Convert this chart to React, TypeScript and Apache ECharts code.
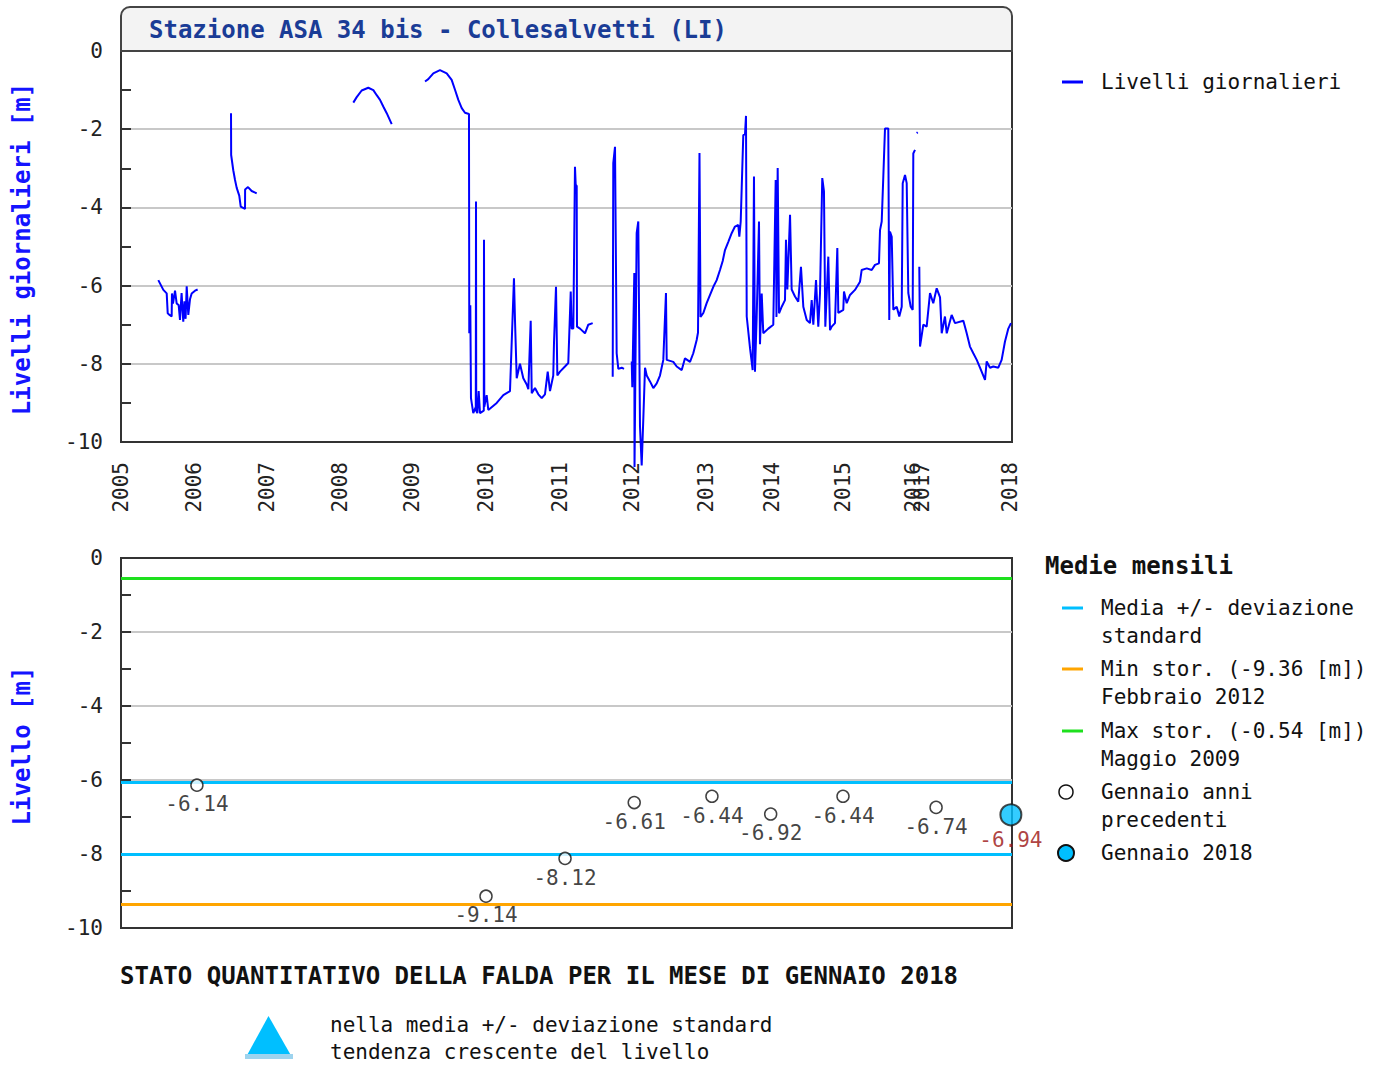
import React, { useEffect, useRef } from "react";
import * as echarts from "echarts";

// ---------- axis layout (non-linear year axis of the original) ----------
const YEAR_TICKS = [2005, 2006, 2007, 2008, 2009, 2010, 2011, 2012, 2013, 2014, 2015, 2016, 2017, 2018];
const YEAR_TICK_POS = [0, 73, 146, 219, 291, 365, 439, 511, 585, 651, 722, 792, 801, 889];
const AXIS_MAX = 891;
const Y_TICKS_MIN = -10;
const Y_TICKS_MAX = 0;

// ---------- daily levels [decimal year, level m] ----------
const seg2005 = [
  [2005.511, -5.86], [2005.58, -6.11], [2005.626, -6.2], [2005.64, -6.71], [2005.665, -6.75], [2005.694, -6.79],
  [2005.698, -6.2], [2005.712, -6.46], [2005.74, -6.13], [2005.763, -6.46], [2005.79, -6.5], [2005.808, -6.88],
  [2005.83, -6.19], [2005.853, -6.92], [2005.87, -6.4], [2005.885, -6.85], [2005.9, -6.02], [2005.922, -6.75],
  [2005.945, -6.35], [2005.968, -6.2], [2006.014, -6.13], [2006.05, -6.1],
];
const seg2006 = [
  [2006.507, -1.59], [2006.509, -2.66], [2006.538, -3.05], [2006.562, -3.3], [2006.585, -3.5], [2006.62, -3.7],
  [2006.64, -3.98], [2006.699, -4.04], [2006.7, -3.54], [2006.74, -3.48], [2006.79, -3.58], [2006.859, -3.64],
];
const seg2008 = [
  [2008.185, -1.32], [2008.232, -1.18], [2008.301, -1.01], [2008.393, -0.94], [2008.463, -1.0], [2008.51, -1.13],
  [2008.556, -1.25], [2008.601, -1.42], [2008.649, -1.59], [2008.718, -1.87],
];
const seg2009 = [
  [2009.176, -0.78], [2009.22, -0.72], [2009.288, -0.57], [2009.378, -0.49], [2009.469, -0.57], [2009.536, -0.74],
  [2009.581, -0.99], [2009.626, -1.25], [2009.672, -1.46], [2009.716, -1.58], [2009.77, -1.61], [2009.774, -7.22],
  [2009.788, -6.5], [2009.797, -8.88], [2009.828, -9.26], [2009.862, -9.1], [2009.865, -3.85], [2009.868, -9.2],
  [2009.883, -9.26], [2009.901, -8.7], [2009.919, -9.26], [2009.97, -9.2], [2009.973, -4.83], [2009.977, -9.1],
  [2010.009, -8.8], [2010.031, -9.18], [2010.145, -9.0], [2010.234, -8.8], [2010.324, -8.7], [2010.347, -7.47],
  [2010.378, -5.81], [2010.392, -6.9], [2010.415, -8.37], [2010.459, -8.0], [2010.504, -8.37], [2010.55, -8.53],
  [2010.572, -8.65], [2010.604, -6.9], [2010.618, -8.75], [2010.662, -8.62], [2010.707, -8.78], [2010.753, -8.88],
  [2010.797, -8.78], [2010.834, -8.2], [2010.865, -8.7], [2010.909, -8.3], [2010.919, -7.45], [2010.946, -6.03],
  [2010.964, -8.3], [2011.0, -8.2], [2011.069, -8.07], [2011.115, -7.98], [2011.149, -6.15], [2011.162, -7.1],
  [2011.185, -7.1], [2011.208, -2.96], [2011.218, -3.42], [2011.232, -3.45], [2011.236, -7.05], [2011.278, -7.1],
  [2011.347, -7.22], [2011.393, -7.0], [2011.454, -6.96],
];
const seg2011 = [
  [2011.732, -8.33], [2011.74, -2.87], [2011.764, -2.45], [2011.787, -7.73], [2011.81, -8.13], [2011.857, -8.1],
  [2011.889, -8.13],
];
const seg2012 = [
  [2011.996, -7.94], [2012.004, -8.6], [2012.031, -5.68], [2012.034, -10.64], [2012.063, -4.66], [2012.085, -4.36],
  [2012.108, -9.6], [2012.131, -10.6], [2012.153, -9.4], [2012.176, -8.1], [2012.199, -8.3], [2012.243, -8.45],
  [2012.288, -8.62], [2012.334, -8.5], [2012.378, -8.3], [2012.423, -7.9], [2012.459, -6.19], [2012.469, -7.9],
  [2012.558, -7.95], [2012.604, -8.07], [2012.672, -8.16], [2012.716, -7.86], [2012.784, -7.95], [2012.828, -7.73],
  [2012.874, -7.39], [2012.892, -7.2], [2012.912, -2.61], [2012.926, -6.8], [2012.964, -6.7], [2013.01, -6.45],
  [2013.061, -6.24], [2013.111, -6.03], [2013.162, -5.86], [2013.212, -5.6], [2013.253, -5.37], [2013.288, -5.09],
  [2013.338, -4.88], [2013.389, -4.66], [2013.439, -4.49], [2013.489, -4.45], [2013.505, -4.75], [2013.526, -4.36],
  [2013.541, -3.5], [2013.565, -2.15], [2013.591, -2.13], [2013.606, -1.66], [2013.617, -6.79], [2013.667, -7.6],
  [2013.707, -8.16], [2013.727, -3.21], [2013.742, -8.2], [2013.768, -6.79], [2013.803, -4.36], [2013.818, -7.5],
  [2013.844, -6.2], [2013.868, -7.22], [2013.944, -7.1], [2014.018, -7.0], [2014.052, -3.3], [2014.063, -6.8],
  [2014.08, -2.99], [2014.099, -6.71], [2014.137, -6.54], [2014.183, -6.37], [2014.197, -4.83], [2014.216, -6.1],
  [2014.254, -4.19], [2014.277, -6.1], [2014.324, -6.28], [2014.37, -6.41], [2014.408, -5.52], [2014.441, -6.54],
  [2014.489, -6.88], [2014.535, -6.96], [2014.559, -6.37], [2014.582, -7.0], [2014.62, -5.86], [2014.652, -7.05],
  [2014.676, -6.2], [2014.708, -3.25], [2014.732, -3.59], [2014.751, -7.05], [2014.793, -5.26], [2014.817, -7.14],
  [2014.841, -7.05], [2014.887, -6.96], [2014.92, -5.04], [2014.934, -6.7], [2015.004, -6.62], [2015.014, -6.15],
  [2015.053, -6.45], [2015.1, -6.24], [2015.171, -6.11], [2015.243, -5.9], [2015.267, -5.6], [2015.339, -5.56],
  [2015.41, -5.6], [2015.457, -5.47], [2015.514, -5.43], [2015.529, -4.58], [2015.553, -4.36], [2015.576, -3.21],
  [2015.6, -1.98], [2015.647, -1.98], [2015.661, -6.88], [2015.671, -4.62], [2015.696, -4.75], [2015.719, -6.62],
  [2015.767, -6.54], [2015.804, -6.79], [2015.839, -6.54], [2015.853, -3.38], [2015.886, -3.17], [2015.91, -3.38],
  [2015.933, -6.19], [2015.967, -6.54], [2015.996, -6.62], [2016.033, -2.62], [2016.222, -2.53],
];
const seg2016 = [[2016.41, -2.1], [2016.52, -2.08]];
const seg2017 = [
  [2016.7, -5.52], [2016.78, -7.56], [2017.015, -7.0], [2017.053, -7.05], [2017.091, -6.19], [2017.128, -6.45],
  [2017.167, -6.07], [2017.205, -6.3], [2017.224, -7.22], [2017.261, -6.79], [2017.281, -7.22], [2017.337, -6.75],
  [2017.375, -6.96], [2017.47, -6.9], [2017.508, -7.22], [2017.545, -7.56], [2017.583, -7.73], [2017.622, -7.9],
  [2017.659, -8.1], [2017.716, -8.41], [2017.735, -7.94], [2017.773, -8.1], [2017.81, -8.07], [2017.867, -8.1],
  [2017.905, -7.9], [2017.943, -7.43], [2017.981, -7.1], [2018.011, -6.96],
];
const DAILY_SEGMENTS = [seg2005, seg2006, seg2008, seg2009, seg2011, seg2012, seg2016, seg2017];

// ---------- January monthly means ----------
const JAN_DATES = [2006.04, 2010.0, 2011.07, 2012.03, 2013.09, 2013.98, 2015.0, 2017.16];
const JAN_VALUES = [-6.14, -9.14, -8.12, -6.61, -6.44, -6.92, -6.44, -6.74];
const JAN_CURRENT_DATE = 2018.01;
const JAN_CURRENT_VALUE = -6.94;
const MEAN_PLUS_SD = -6.06;
const MEAN_MINUS_SD = -8.0;
const HIST_MIN = -9.36;
const HIST_MAX = -0.54;

const TITLE = "Stazione ASA 34 bis - Collesalvetti (LI)";

const MONO = '"DejaVu Sans Mono", monospace';
const BLUE_LINE = "#0000ff";
const CYAN = "#00bfff";
const ORANGE = "#ffa500";
const GREEN = "#1ee01e";

const toPos = (t: number) => {
  let i = Math.floor(t) - YEAR_TICKS[0];
  i = Math.max(0, Math.min(i, YEAR_TICKS.length - 2));
  const f = t - YEAR_TICKS[i];
  return YEAR_TICK_POS[i] + f * (YEAR_TICK_POS[i + 1] - YEAR_TICK_POS[i]);
};

const txt = (text: string, x: number, y: number, opts: any = {}) => ({
  type: "text",
  x,
  y,
  rotation: opts.rotation || 0,
  z: 100,
  style: {
    text,
    fill: opts.color || "#111",
    fontSize: opts.size || 21,
    fontFamily: MONO,
    fontWeight: opts.bold ? "bold" : "normal",
    align: opts.align || "left",
    textAlign: opts.align || "left",
    verticalAlign: "middle",
    textVerticalAlign: "middle",
  },
});

const legLine = (y: number, color: string) => ({
  type: "line",
  z: 100,
  shape: { x1: 1062, y1: y, x2: 1083, y2: y },
  style: { stroke: color, lineWidth: 3 },
});

export default function App() {
  const ref = useRef<HTMLDivElement>(null);

  useEffect(() => {
    if (!ref.current) return;
    const chart = echarts.init(ref.current, undefined, { renderer: "svg" });

    const yAxisBase = (gridIndex: number) => ({
      type: "value",
      gridIndex,
      min: Y_TICKS_MIN,
      max: Y_TICKS_MAX,
      interval: 2,
      axisLine: { show: true, lineStyle: { color: "#333", width: 2 } },
      axisTick: { show: true, inside: true, length: 10, lineStyle: { color: "#333", width: 2 } },
      minorTick: { show: true, splitNumber: 2, length: 10, lineStyle: { color: "#333", width: 2 } },
      splitLine: { show: true, showMinLine: false, showMaxLine: false, lineStyle: { color: "#c8c8c8", width: 2 } },
      axisLabel: { color: "#222", fontSize: 21, fontFamily: MONO, margin: 18 },
    });

    const xAxisFrame = (gridIndex: number, position: string, labels: any) => ({
      type: "value",
      gridIndex,
      position,
      min: 0,
      max: AXIS_MAX,
      axisLine: { show: true, onZero: false, lineStyle: { color: "#333", width: 2 } },
      axisTick: { show: false },
      splitLine: { show: false },
      axisLabel: labels,
    });

    const lineSeries = DAILY_SEGMENTS.map((seg) => ({
      type: "line",
      xAxisIndex: 0,
      yAxisIndex: 0,
      data: seg.map(([t, v]) => [toPos(t), v]),
      showSymbol: false,
      symbol: "none",
      clip: false,
      lineStyle: { color: BLUE_LINE, width: 2 },
      silent: true,
    }));

    const option: any = {
      animation: false,
      backgroundColor: "#fff",
      grid: [
        { left: 121, top: 51, width: 891, height: 391, show: true, borderColor: "#333", borderWidth: 2, backgroundColor: "#fff", outerBoundsMode: "none", containLabel: false },
        { left: 121, top: 558, width: 891, height: 370, show: true, borderColor: "#333", borderWidth: 2, backgroundColor: "#fff", outerBoundsMode: "none", containLabel: false },
      ],
      xAxis: [
        xAxisFrame(0, "bottom", {
          show: true,
          customValues: YEAR_TICK_POS,
          rotate: 90,
          margin: 20,
          color: "#222",
          fontSize: 21,
          fontFamily: MONO,
          formatter: (v: number) => {
            const i = YEAR_TICK_POS.findIndex((p) => Math.abs(p - v) < 0.5);
            return i >= 0 ? String(YEAR_TICKS[i]) : "";
          },
        }),
        xAxisFrame(1, "bottom", { show: false }),
        xAxisFrame(1, "top", { show: false }),
      ],
      yAxis: [yAxisBase(0), yAxisBase(1)],
      series: [
        ...lineSeries,
        {
          type: "line",
          xAxisIndex: 1,
          yAxisIndex: 1,
          data: [],
          silent: true,
          markLine: {
            silent: true,
            symbol: ["none", "none"],
            label: { show: false },
            z: 3,
            data: [
              { yAxis: HIST_MAX, lineStyle: { color: GREEN, width: 3, type: "solid" } },
              { yAxis: MEAN_PLUS_SD, lineStyle: { color: CYAN, width: 3, type: "solid" } },
              { yAxis: MEAN_MINUS_SD, lineStyle: { color: CYAN, width: 3, type: "solid" } },
              { yAxis: HIST_MIN, lineStyle: { color: ORANGE, width: 3, type: "solid" } },
            ],
          },
        },
        {
          type: "scatter",
          xAxisIndex: 1,
          yAxisIndex: 1,
          z: 5,
          symbol: "circle",
          symbolSize: 12,
          itemStyle: { color: "#fff", borderColor: "#111", borderWidth: 1.5 },
          label: {
            show: true,
            position: "bottom",
            distance: 2,
            color: "#111",
            fontSize: 21,
            fontFamily: MONO,
            formatter: (p: any) => p.value[1].toFixed(2),
          },
          data: JAN_DATES.map((t, i) => [toPos(t), JAN_VALUES[i]]),
        },
        {
          type: "scatter",
          xAxisIndex: 1,
          yAxisIndex: 1,
          z: 6,
          symbol: "circle",
          symbolSize: 21,
          clip: false,
          itemStyle: { color: CYAN, borderColor: "#1a1a1a", borderWidth: 2 },
          label: {
            show: true,
            position: "bottom",
            distance: 3,
            color: "#9a1010",
            fontSize: 21,
            fontFamily: MONO,
            formatter: (p: any) => p.value[1].toFixed(2),
          },
          data: [[toPos(JAN_CURRENT_DATE), JAN_CURRENT_VALUE]],
        },
      ],
      graphic: {
        elements: [
          {
            type: "rect",
            z: 90,
            shape: { x: 121, y: 7, width: 891, height: 44, r: [9, 9, 0, 0] },
            style: { fill: "#f3f3f3", stroke: "#444", lineWidth: 2 },
          },
          txt(TITLE, 149, 30, { bold: true, size: 24, color: "#1a3c96" }),
          txt("Livelli giornalieri [m]", 22, 249, { bold: true, size: 24, color: "#1414ff", align: "center", rotation: Math.PI / 2 }),
          txt("Livello [m]", 22, 746, { bold: true, size: 24, color: "#1414ff", align: "center", rotation: Math.PI / 2 }),
          legLine(82, BLUE_LINE),
          txt("Livelli giornalieri", 1101, 82),
          txt("Medie mensili", 1045, 566, { bold: true, size: 24 }),
          legLine(608, CYAN),
          txt("Media +/- deviazione", 1101, 608),
          txt("standard", 1101, 636),
          legLine(669, ORANGE),
          txt("Min stor. (" + HIST_MIN.toFixed(2) + " [m])", 1101, 669),
          txt("Febbraio 2012", 1101, 697),
          legLine(731, GREEN),
          txt("Max stor. (" + HIST_MAX.toFixed(2) + " [m])", 1101, 731),
          txt("Maggio 2009", 1101, 759),
          {
            type: "circle",
            z: 100,
            shape: { cx: 1066, cy: 792, r: 7 },
            style: { fill: "#fff", stroke: "#111", lineWidth: 1.5 },
          },
          txt("Gennaio anni", 1101, 792),
          txt("precedenti", 1101, 820),
          {
            type: "circle",
            z: 100,
            shape: { cx: 1066, cy: 853, r: 8 },
            style: { fill: CYAN, stroke: "#111", lineWidth: 2 },
          },
          txt("Gennaio 2018", 1101, 853),
          txt("STATO QUANTITATIVO DELLA FALDA PER IL MESE DI GENNAIO 2018", 120, 976, { bold: true, size: 24 }),
          {
            type: "polygon",
            z: 100,
            shape: { points: [[245, 1059], [268.5, 1016], [293, 1059]] },
            style: { fill: CYAN },
          },
          {
            type: "rect",
            z: 101,
            shape: { x: 245, y: 1054, width: 48, height: 5 },
            style: { fill: "#9dd3ee" },
          },
          txt("nella media +/- deviazione standard", 330, 1025),
          txt("tendenza crescente del livello", 330, 1052),
        ],
      },
    };

    chart.setOption(option);
    return () => chart.dispose();
  }, []);

  return (
    <div
      ref={ref}
      style={{ position: "fixed", left: 0, top: 0, width: 1382, height: 1065, background: "#fff" }}
    />
  );
}
